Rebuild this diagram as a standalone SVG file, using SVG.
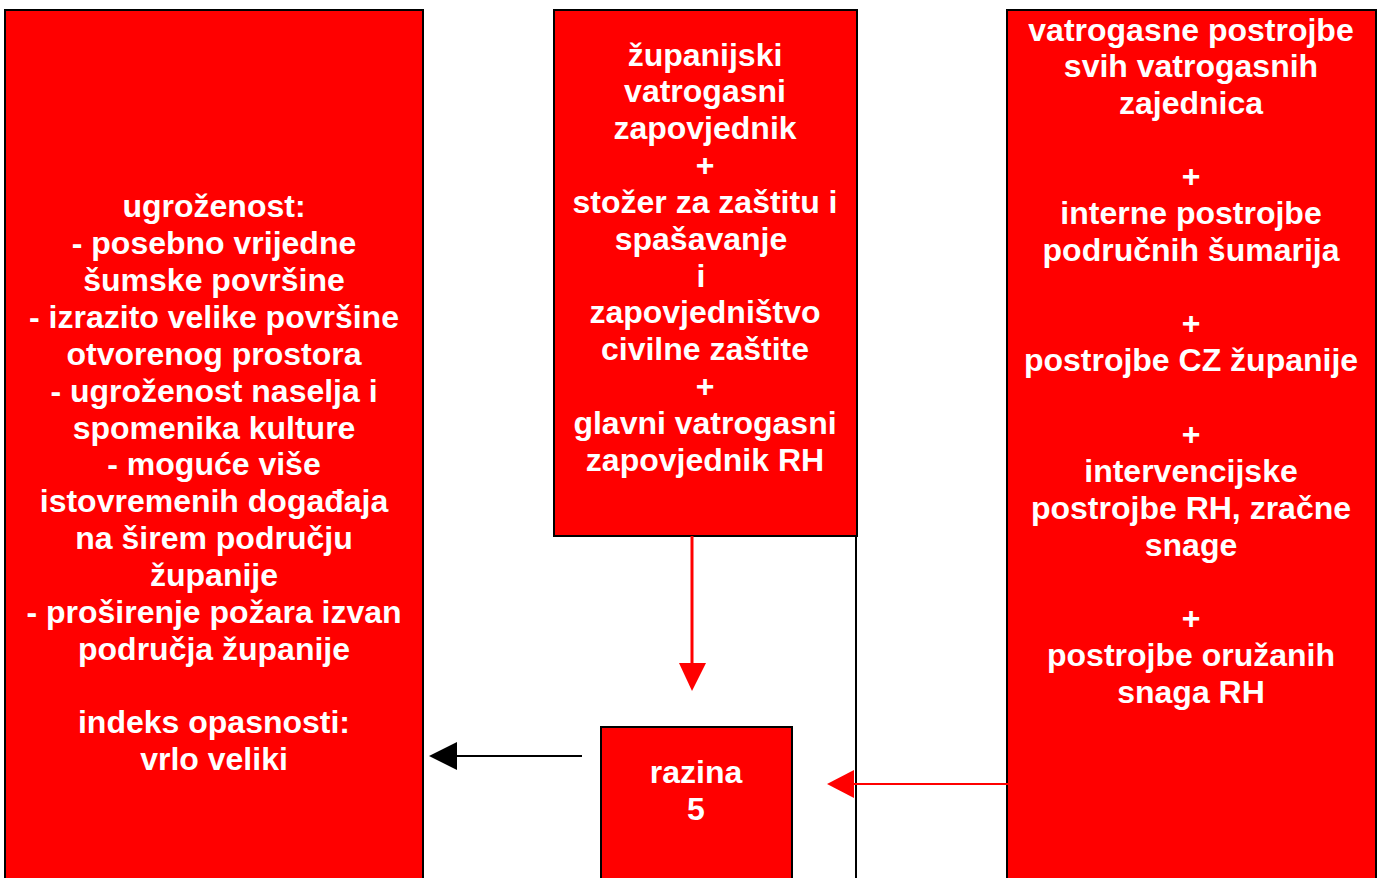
<svg xmlns="http://www.w3.org/2000/svg" width="1382" height="878" viewBox="0 0 1382 878">
<style>
.box{fill:#ff0000;stroke:#000;stroke-width:2}
.t{font-family:"Liberation Sans",Arial,sans-serif;font-weight:bold;font-size:32px;fill:#fff;text-anchor:middle}
</style>
<rect width="1382" height="878" fill="#fff"/>
<g id="left" class="t">
<rect class="box" x="5" y="10" width="418" height="880"/>
<text x="214" y="217">ugroženost:</text>
<text x="214" y="254">- posebno vrijedne</text>
<text x="214" y="291">šumske površine</text>
<text x="214" y="328">- izrazito velike površine</text>
<text x="214" y="365">otvorenog prostora</text>
<text x="214" y="402">- ugroženost naselja i</text>
<text x="214" y="439">spomenika kulture</text>
<text x="214" y="475">- moguće više</text>
<text x="214" y="512">istovremenih događaja</text>
<text x="214" y="549">na širem području</text>
<text x="214" y="586">županije</text>
<text x="214" y="623">- proširenje požara izvan</text>
<text x="214" y="660">područja županije</text>
<text x="214" y="733">indeks opasnosti:</text>
<text x="214" y="770">vrlo veliki</text>
</g>
<g id="middle" class="t">
<rect class="box" x="554" y="10" width="303" height="526"/>
<text x="705" y="66">županijski</text>
<text x="705" y="102">vatrogasni</text>
<text x="705" y="139">zapovjednik</text>
<text x="705" y="176">+</text>
<text x="705" y="213">stožer za zaštitu i</text>
<text x="701" y="250">spašavanje</text>
<text x="701" y="287">i</text>
<text x="705" y="323">zapovjedništvo</text>
<text x="705" y="360">civilne zaštite</text>
<text x="705" y="397">+</text>
<text x="705" y="434">glavni vatrogasni</text>
<text x="705" y="471">zapovjednik RH</text>
</g>
<g id="right" class="t">
<rect class="box" x="1007" y="10" width="369" height="880"/>
<text x="1191" y="41">vatrogasne postrojbe</text>
<text x="1191" y="77">svih vatrogasnih</text>
<text x="1191" y="114">zajednica</text>
<text x="1191" y="187">+</text>
<text x="1191" y="224">interne postrojbe</text>
<text x="1191" y="261">područnih šumarija</text>
<text x="1191" y="334">+</text>
<text x="1191" y="371">postrojbe CZ županije</text>
<text x="1191" y="445">+</text>
<text x="1191" y="482">intervencijske</text>
<text x="1191" y="519">postrojbe RH, zračne</text>
<text x="1191" y="556">snage</text>
<text x="1191" y="629">+</text>
<text x="1191" y="666">postrojbe oružanih</text>
<text x="1191" y="703">snaga RH</text>
</g>
<g id="razina" class="t">
<rect class="box" x="601" y="727" width="191" height="170"/>
<text x="696" y="783">razina</text>
<text x="696" y="820">5</text>
</g>
<g id="connectors">
<line x1="856" y1="536" x2="856" y2="878" stroke="#000" stroke-width="2"/>
<line x1="692" y1="536" x2="692" y2="665" stroke="#ff0000" stroke-width="3"/>
<polygon points="679,663 706,663 692,691" fill="#ff0000"/>
<line x1="582" y1="756" x2="455" y2="756" stroke="#000" stroke-width="2"/>
<polygon points="457,742 457,770 429,756" fill="#000"/>
<line x1="1008" y1="784" x2="853" y2="784" stroke="#ff0000" stroke-width="2"/>
<polygon points="854,770 854,798 827,784" fill="#ff0000"/>
</g>
</svg>
